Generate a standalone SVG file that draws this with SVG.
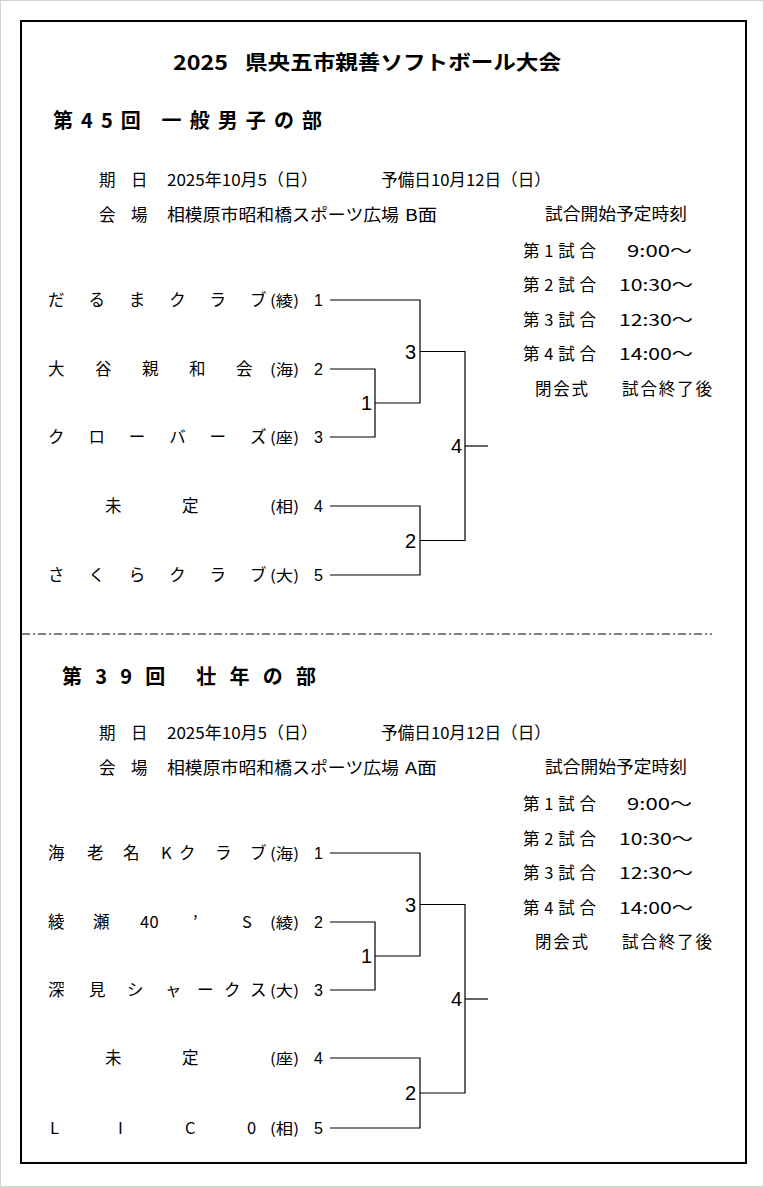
<svg xmlns="http://www.w3.org/2000/svg" width="764" height="1187" viewBox="0 0 764 1187">
<style>
.jp{font-family:"Noto Sans CJK JP","Noto Sans",sans-serif;fill:#000}
.b{font-weight:bold;font-size:20px}
.t{font-size:16.5px}
.n{font-size:16.5px}
.p{font-size:15px}
.num{font-family:"Liberation Sans",Arial,sans-serif;font-size:16px;fill:#000}
.rn{font-family:"Liberation Sans",Arial,sans-serif;font-size:20px;fill:#000;text-anchor:end}
.ln{fill:none;stroke:#000;stroke-width:1.2}
</style>
<rect x="0" y="0" width="764" height="1187" fill="#ffffff"/>
<rect x="0.5" y="0.5" width="763" height="1186" fill="none" stroke="#cfd4cf" stroke-width="1"/>
<rect x="21" y="21" width="725" height="1142" fill="none" stroke="#000" stroke-width="2"/>

<g id="title">
<text class="jp b" x="173" y="70" textLength="55" lengthAdjust="spacingAndGlyphs">2025</text>
<text class="jp b" x="245" y="70" textLength="316" lengthAdjust="spacingAndGlyphs">県央五市親善ソフトボール大会</text>
</g>

<!-- Section 1 -->
<g id="section1-header">
<text class="jp b" x="53" y="128" textLength="269" lengthAdjust="spacing">第45回 一般男子の部</text>
<text class="jp t" x="99 131" y="185.5">期日</text>
<text class="jp t" x="167" y="185.5" textLength="151" lengthAdjust="spacingAndGlyphs">2025年10月5（日）</text>
<text class="jp t" x="381" y="185.5" textLength="170" lengthAdjust="spacingAndGlyphs">予備日10月12日（日）</text>
<text class="jp t" x="99 131" y="220.5">会場</text>
<text class="jp t" x="167" y="220.5" textLength="232" lengthAdjust="spacingAndGlyphs">相模原市昭和橋スポーツ広場</text>
<text class="jp t" x="405" y="220.5" textLength="32" lengthAdjust="spacingAndGlyphs">B面</text>
</g>
<g id="schedule1">
<text class="jp t" x="545" y="219.5" textLength="142" lengthAdjust="spacingAndGlyphs">試合開始予定時刻</text>
<text class="jp t" x="523" y="256.5" textLength="73" lengthAdjust="spacing">第1試合</text>
<text class="jp t" x="627" y="256.5" textLength="65" lengthAdjust="spacingAndGlyphs">9:00～</text>
<text class="jp t" x="523" y="291" textLength="73" lengthAdjust="spacing">第2試合</text>
<text class="jp t" x="619" y="291" textLength="74" lengthAdjust="spacingAndGlyphs">10:30～</text>
<text class="jp t" x="523" y="325.5" textLength="73" lengthAdjust="spacing">第3試合</text>
<text class="jp t" x="619" y="325.5" textLength="74" lengthAdjust="spacingAndGlyphs">12:30～</text>
<text class="jp t" x="523" y="360" textLength="73" lengthAdjust="spacing">第4試合</text>
<text class="jp t" x="619" y="360" textLength="74" lengthAdjust="spacingAndGlyphs">14:00～</text>
<text class="jp t" x="535" y="394.5" textLength="53" lengthAdjust="spacing">閉会式</text>
<text class="jp t" x="622" y="394.5" textLength="90" lengthAdjust="spacing">試合終了後</text>
</g>

<g id="s1-team1"><text class="jp n" x="48 88.4 128.8 169.2 209.6 250" y="306">だるまクラブ</text><text class="jp p" x="270" y="305.5" textLength="29" lengthAdjust="spacingAndGlyphs">(綾)</text><text class="num" x="314" y="306">1</text></g>
<g id="s1-team2"><text class="jp n" x="48 95 142 189 236" y="375">大谷親和会</text><text class="jp p" x="270" y="374.5" textLength="29" lengthAdjust="spacingAndGlyphs">(海)</text><text class="num" x="314" y="375">2</text></g>
<g id="s1-team3"><text class="jp n" x="48 88.4 128.8 169.2 209.6 250" y="443">クローバーズ</text><text class="jp p" x="270" y="442.5" textLength="29" lengthAdjust="spacingAndGlyphs">(座)</text><text class="num" x="314" y="443">3</text></g>
<g id="s1-team4"><text class="jp n" x="105 182" y="512">未定</text><text class="jp p" x="270" y="511.5" textLength="29" lengthAdjust="spacingAndGlyphs">(相)</text><text class="num" x="314" y="512">4</text></g>
<g id="s1-team5"><text class="jp n" x="48 88.4 128.8 169.2 209.6 250" y="581">さくらクラブ</text><text class="jp p" x="270" y="580.5" textLength="29" lengthAdjust="spacingAndGlyphs">(大)</text><text class="num" x="314" y="581">5</text></g>

<g id="s1-rounds">
<text class="rn" x="372" y="410">1</text>
<text class="rn" x="416" y="548">2</text>
<text class="rn" x="416" y="359">3</text>
<text class="rn" x="462" y="453">4</text>
</g>

<g id="connectors1">
<polyline class="ln" points="330,369 375,369 375,437 330,437"/>
<polyline class="ln" points="330,300 420,300 420,403 375,403"/>
<polyline class="ln" points="330,506 420,506 420,575 330,575"/>
<polyline class="ln" points="420,351.5 465,351.5 465,540.5 420,540.5"/>
<line class="ln" x1="465" y1="446" x2="488" y2="446"/>
</g>

<line id="separator" x1="22" y1="634" x2="712" y2="634" stroke="#000" stroke-width="1" stroke-dasharray="8 3 2 3"/>

<!-- Section 2 -->
<g id="section2-header">
<text class="jp b" x="62" y="684" textLength="254" lengthAdjust="spacing">第39回 壮年の部</text>
<text class="jp t" x="99 131" y="738.5">期日</text>
<text class="jp t" x="167" y="738.5" textLength="151" lengthAdjust="spacingAndGlyphs">2025年10月5（日）</text>
<text class="jp t" x="381" y="738.5" textLength="170" lengthAdjust="spacingAndGlyphs">予備日10月12日（日）</text>
<text class="jp t" x="99 131" y="773.5">会場</text>
<text class="jp t" x="167" y="773.5" textLength="232" lengthAdjust="spacingAndGlyphs">相模原市昭和橋スポーツ広場</text>
<text class="jp t" x="405" y="773.5" textLength="32" lengthAdjust="spacingAndGlyphs">A面</text>
</g>
<g id="schedule2">
<text class="jp t" x="545" y="773" textLength="142" lengthAdjust="spacingAndGlyphs">試合開始予定時刻</text>
<text class="jp t" x="523" y="810" textLength="73" lengthAdjust="spacing">第1試合</text>
<text class="jp t" x="627" y="810" textLength="65" lengthAdjust="spacingAndGlyphs">9:00～</text>
<text class="jp t" x="523" y="844.5" textLength="73" lengthAdjust="spacing">第2試合</text>
<text class="jp t" x="619" y="844.5" textLength="74" lengthAdjust="spacingAndGlyphs">10:30～</text>
<text class="jp t" x="523" y="879" textLength="73" lengthAdjust="spacing">第3試合</text>
<text class="jp t" x="619" y="879" textLength="74" lengthAdjust="spacingAndGlyphs">12:30～</text>
<text class="jp t" x="523" y="913.5" textLength="73" lengthAdjust="spacing">第4試合</text>
<text class="jp t" x="619" y="913.5" textLength="74" lengthAdjust="spacingAndGlyphs">14:00～</text>
<text class="jp t" x="535" y="948" textLength="53" lengthAdjust="spacing">閉会式</text>
<text class="jp t" x="622" y="948" textLength="90" lengthAdjust="spacing">試合終了後</text>
</g>

<g id="s2-team1"><text class="jp n" x="48 87 123 161 179 215 250" y="859">海老名Kクラブ</text><text class="jp p" x="270" y="858.5" textLength="29" lengthAdjust="spacingAndGlyphs">(海)</text><text class="num" x="314" y="859">1</text></g>
<g id="s2-team2"><text class="jp n" x="48 93 140 149.5 193 242" y="928">綾瀬40’S</text><text class="jp p" x="270" y="927.5" textLength="29" lengthAdjust="spacingAndGlyphs">(綾)</text><text class="num" x="314" y="928">2</text></g>
<g id="s2-team3"><text class="jp n" x="48 89 127 165 197 224 250" y="996">深見シャークス</text><text class="jp p" x="270" y="995.5" textLength="29" lengthAdjust="spacingAndGlyphs">(大)</text><text class="num" x="314" y="996">3</text></g>
<g id="s2-team4"><text class="jp n" x="105 182" y="1064">未定</text><text class="jp p" x="270" y="1063.5" textLength="29" lengthAdjust="spacingAndGlyphs">(座)</text><text class="num" x="314" y="1064">4</text></g>
<g id="s2-team5"><text class="jp n" x="50 118 185 247" y="1134">LIC0</text><text class="jp p" x="270" y="1133.5" textLength="29" lengthAdjust="spacingAndGlyphs">(相)</text><text class="num" x="314" y="1134">5</text></g>

<g id="s2-rounds">
<text class="rn" x="372" y="963">1</text>
<text class="rn" x="416" y="1100">2</text>
<text class="rn" x="416" y="912">3</text>
<text class="rn" x="462" y="1006">4</text>
</g>

<g id="connectors2">
<polyline class="ln" points="330,922 375,922 375,990 330,990"/>
<polyline class="ln" points="330,853 420,853 420,956 375,956"/>
<polyline class="ln" points="330,1058 420,1058 420,1128 330,1128"/>
<polyline class="ln" points="420,904.5 465,904.5 465,1093 420,1093"/>
<line class="ln" x1="465" y1="999" x2="488" y2="999"/>
</g>
</svg>
